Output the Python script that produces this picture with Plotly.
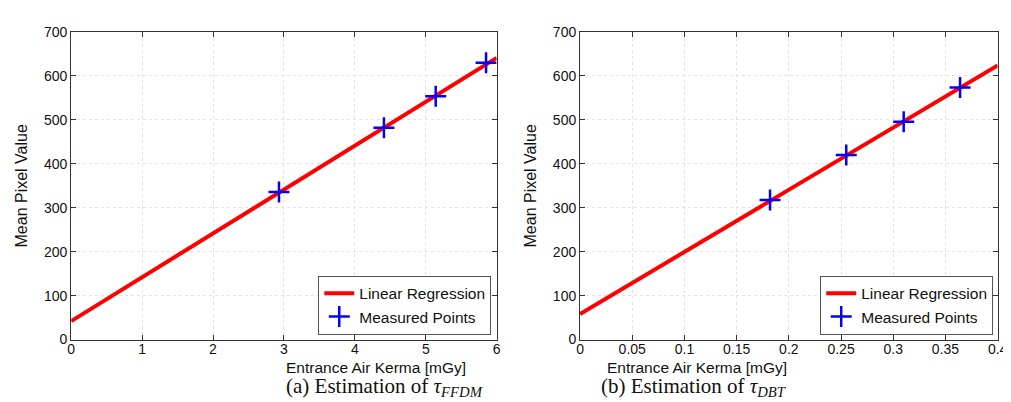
import plotly.graph_objects as go

# Data
ffdm_fit_x = [0, 6]
ffdm_fit_y = [42, 641]
ffdm_pts_x = [2.93, 4.41, 5.14, 5.85]
ffdm_pts_y = [336, 482, 554, 630]

dbt_fit_x = [0, 0.4]
dbt_fit_y = [58, 624]
dbt_pts_x = [0.182, 0.255, 0.310, 0.364]
dbt_pts_y = [318, 420, 496, 574]

x_title = "Entrance Air Kerma [mGy]"
y_title = "Mean Pixel Value"
captions = ["(a) Estimation of <i>τ</i><sub><i>FFDM</i></sub>",
            "(b) Estimation of <i>τ</i><sub><i>DBT</i></sub>"]

W, H = 1011, 402
fig = go.Figure()

def add_pair(fx, fy, px, py, xa, ya, leg):
    fig.add_trace(go.Scatter(x=fx, y=fy, mode="lines", name="Linear Regression",
                             line=dict(color="#ff0000", width=4),
                             xaxis=xa, yaxis=ya, legend=leg))
    fig.add_trace(go.Scatter(x=px, y=py, mode="markers", name="Measured Points",
                             marker=dict(symbol="cross-thin-open", size=15, color="#0000ff",
                                         line=dict(color="#0000ff", width=2.5)),
                             xaxis=xa, yaxis=ya, legend=leg))

add_pair(ffdm_fit_x, ffdm_fit_y, ffdm_pts_x, ffdm_pts_y, "x", "y", "legend")
add_pair(dbt_fit_x, dbt_fit_y, dbt_pts_x, dbt_pts_y, "x2", "y2", "legend2")

font = "Liberation Sans, Arial, sans-serif"
ydom = [1 - 337 / H, 1 - 16.7 / H]
xdom1 = [60 / W, 491.5 / W]
xdom2 = [576 / W, 999.5 / W]

common = dict(showline=True, linecolor="#333333", linewidth=1, mirror="ticks",
              ticks="inside", ticklen=5, tickcolor="#333333",
              showgrid=True, gridcolor="#e3e3e3", griddash="dot", gridwidth=1,
              zeroline=False, tickfont=dict(family=font, size=14, color="#111"),
              title_font=dict(family=font, size=16, color="#111"))

leg_common = dict(yanchor="bottom", y=(H - 332) / H, xanchor="right",
                  bgcolor="white", bordercolor="#555555", borderwidth=1,
                  font=dict(family=font, size=15.5, color="#111"), tracegroupgap=0,
                  itemwidth=30)

fig.update_layout(
    width=W, height=H, margin=dict(l=0, r=0, t=0, b=0),
    paper_bgcolor="white", plot_bgcolor="white",
    xaxis=dict(domain=xdom1, range=[0, 6], dtick=1, anchor="y",
               ticklabelstandoff=-3, **common),
    yaxis=dict(domain=ydom, range=[0, 700], dtick=100, anchor="x",
               title=dict(text=y_title, standoff=12), **common),
    xaxis2=dict(domain=xdom2, range=[0, 0.4], dtick=0.05, anchor="y2",
                ticklabelstandoff=-3, **common),
    yaxis2=dict(domain=ydom, range=[0, 700], dtick=100, anchor="x2",
                title=dict(text=y_title, standoff=12), **common),
    legend=dict(x=486 / W, **leg_common),
    legend2=dict(x=995 / W, **leg_common),
    showlegend=True,
)

serif = "Liberation Serif, Times New Roman, serif"
for dom, cap in zip([xdom1, xdom2], captions):
    cx = (dom[0] + dom[1]) / 2
    fig.add_annotation(text=x_title, x=cx, y=(H - 366) / H, xref="paper", yref="paper",
                       yanchor="middle", showarrow=False,
                       font=dict(family=font, size=15.5, color="#111"))
    fig.add_annotation(text=cap, x=cx, y=0, xref="paper", yref="paper",
                       yanchor="bottom", showarrow=False,
                       font=dict(family=serif, size=21, color="#111"))

fig.write_html("out.html")
